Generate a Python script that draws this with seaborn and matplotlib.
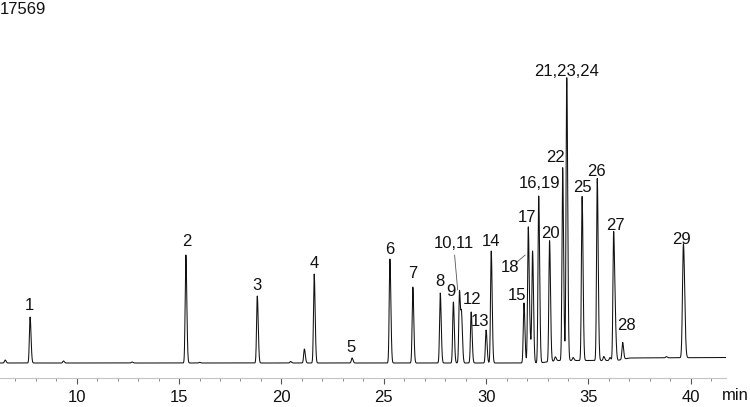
import numpy as np
import pandas as pd
import matplotlib
matplotlib.use("Agg")
import matplotlib.pyplot as plt
import seaborn as sns

# ---- data ----
# labelled peaks: retention time (min), height (arbitrary units)
peak_times = [7.72, 15.33, 18.82, 21.60, 23.45, 25.30, 26.42, 27.76, 28.40,
              28.70, 28.80, 29.27, 30.00, 30.25, 31.85, 32.06, 32.16, 32.27,
              32.57, 33.10, 33.74, 33.94, 34.69, 35.43, 36.23, 36.31, 36.67, 39.64]
peak_heights = [46, 108, 67, 89, 5, 104, 76, 70, 61,
                72, 45, 51, 33, 112, 60, 136, 18, 111,
                167, 121, 193, 283, 164, 182, 127, 30, 17, 114]
# small unlabelled bumps
minor_times = [6.50, 9.35, 12.70, 16.00, 20.45, 21.12, 33.38, 34.25, 35.75, 36.05, 38.80]
minor_heights = [3, 2, 1, 0.6, 1.5, 14, 4, 3, 4, 3, 1.2]
# slow baseline drift anchors
drift_times = [6.25, 32.6, 33.5, 36.4, 37.0, 41.72]
drift_values = [0.0, 0.0, 2.5, 2.5, 5.0, 5.5]

# peak labels: text, x (min), y (units)
label_texts = ["1", "2", "3", "4", "5", "6", "7", "8", "9", "10,11", "12", "13", "14",
               "15", "18", "17", "16,19", "20", "22", "21,23,24", "25", "26", "27", "28", "29"]
label_x = [7.67, 15.39, 18.81, 21.59, 23.40, 25.31, 26.43, 27.75, 28.29, 28.43, 29.31,
           29.70, 30.24, 31.51, 31.17, 32.00, 32.59, 33.13, 33.37, 33.95, 34.73, 35.41,
           36.30, 36.88, 39.57]
label_y = [58, 121, 78, 100, 16, 114, 89, 82, 71, 120, 63, 41, 122, 68, 96, 146,
           179, 130, 205, 292, 176, 192, 138, 38, 124]

# ---- build trace ----
t = np.arange(6.25, 41.72, 0.004)
signal = np.interp(t, drift_times, drift_values)
for t0, h in zip(peak_times + minor_times, peak_heights + minor_heights):
    s = 0.045 if t0 > 39 else 0.034
    left = np.exp(-0.5 * ((t - t0) / s) ** 2)
    right = np.exp(-0.5 * ((t - t0) / (s * 1.35)) ** 2)
    signal += h * np.where(t < t0, left, right)
df = pd.DataFrame({"time": t, "signal": signal})

# ---- plot ----
sns.set_style("white")
plt.rcParams["font.family"] = ["Liberation Sans", "DejaVu Sans"]
FS = 12
fig = plt.figure(figsize=(7.5, 4.07), dpi=100)
H = 407.0
ax = fig.add_axes([0, (H - 377.7) / H, 726 / 750, (377.7 - 10) / H])
sns.lineplot(data=df, x="time", y="signal", ax=ax, color="#111111",
             linewidth=0.75, estimator=None, sort=False)
ax.set_xlim(6.25, 41.72)
ax.set_ylim(-14.7, 353)

for txt, x, y in zip(label_texts, label_x, label_y):
    ax.text(x, y, txt, ha="center", va="center", fontsize=FS, color="#111111")

# leader lines
ax.plot([28.46, 28.61], [108, 73], color="#555555", linewidth=0.6)
ax.plot([31.45, 31.91], [100, 108], color="#555555", linewidth=0.6)

for side in ["left", "top", "right"]:
    ax.spines[side].set_visible(False)
ax.spines["bottom"].set_color("#c4c4c4")
ax.spines["bottom"].set_linewidth(0.8)
ax.set_yticks([])
ax.set_xticks([10, 15, 20, 25, 30, 35, 40])
ax.set_xticks(np.arange(7, 42, 1), minor=True)
ax.tick_params(axis="x", which="major", direction="out", length=4, width=0.8,
               color="#555555", labelsize=FS, pad=5, labelcolor="#111111", bottom=True)
ax.tick_params(axis="x", which="minor", direction="out", length=2, width=0.7,
               color="#888888", bottom=True)
ax.set_xlabel("")
ax.set_ylabel("")

fig.text(0 / 750, 1 - 9 / H, "17569", ha="left", va="center", fontsize=FS, color="#111111")
fig.text(749 / 750, 1 - 395 / H, "min", ha="right", va="center", fontsize=FS, color="#111111")

fig.savefig("out.png", dpi=100)
